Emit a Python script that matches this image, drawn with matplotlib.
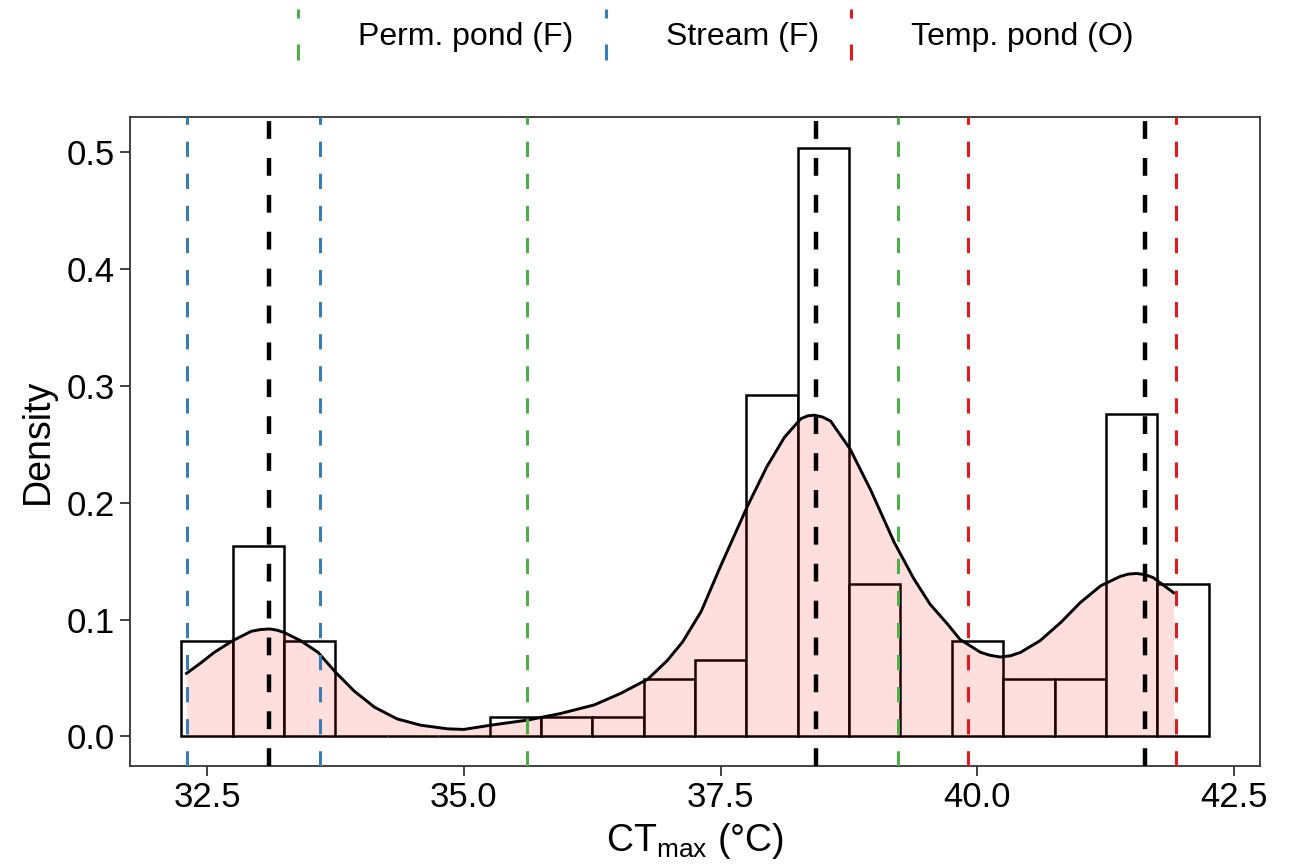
"""
CTmax histogram with density curve and habitat reference lines
"""

import numpy as np
import matplotlib
matplotlib.use('Agg')
import matplotlib.pyplot as plt
from matplotlib.lines import Line2D
from matplotlib.legend_handler import HandlerBase

# histogram: bin left edges (width 0.5) and counts, N = 123
bin_left = [32.25, 32.75, 33.25, 33.75, 34.25, 34.75, 35.25, 35.75, 36.25, 36.75,
            37.25, 37.75, 38.25, 38.75, 39.25, 39.75, 40.25, 40.75, 41.25, 41.75]
counts = [5, 10, 5, 0, 0, 0, 1, 1, 1, 3, 4, 18, 31, 8, 0, 5, 3, 3, 17, 8]
bin_width = 0.5

# density curve
curve_x = [32.30, 32.44, 32.57, 32.75, 32.93, 33.02, 33.11, 33.18, 33.25, 33.41,
           33.58, 33.75, 33.93, 34.13, 34.35, 34.58, 34.84, 35.00, 35.26, 35.62,
           35.94, 36.27, 36.53, 36.79, 36.98, 37.13, 37.31, 37.50, 37.76, 37.95,
           38.12, 38.28, 38.35, 38.41, 38.49, 38.57, 38.76, 38.96, 39.19, 39.38,
           39.54, 39.71, 39.83, 40.03, 40.12, 40.22, 40.32, 40.42, 40.61, 40.81,
           41.00, 41.20, 41.39, 41.47, 41.55, 41.63, 41.71, 41.91]
curve_y = [0.054, 0.063, 0.072, 0.082, 0.090, 0.0915, 0.092, 0.091, 0.089, 0.082,
           0.072, 0.055, 0.039, 0.025, 0.015, 0.0096, 0.0065, 0.006, 0.0096, 0.014,
           0.0196, 0.027, 0.037, 0.049, 0.065, 0.081, 0.107, 0.146, 0.197, 0.231,
           0.256, 0.272, 0.2745, 0.275, 0.2735, 0.270, 0.246, 0.211, 0.166, 0.135,
           0.113, 0.096, 0.083, 0.072, 0.0695, 0.068, 0.069, 0.072, 0.082, 0.0975,
           0.1145, 0.129, 0.137, 0.139, 0.1395, 0.1385, 0.136, 0.123]

# habitat lines
habitats = ['Perm. pond (F)', 'Stream (F)', 'Temp. pond (O)']
hab_colors = ['#4DAF4A', '#377EB8', '#E41A1C']
hab_lines = [[35.61, 39.23], [32.30, 33.60], [39.91, 41.93]]
black_lines = [33.10, 38.43, 41.63]

xticks = [32.5, 35.0, 37.5, 40.0, 42.5]
yticks = [0.0, 0.1, 0.2, 0.3, 0.4, 0.5]


class VLineHandler(HandlerBase):
    # vertical dashed key like ggplot's geom_vline legend
    def create_artists(self, legend, orig_handle, xdescent, ydescent,
                       width, height, fontsize, trans):
        x = width / 2.0 - xdescent
        yc = height / 2.0 - ydescent
        line = Line2D([x, x], [yc + 18.4, yc - 18.4],
                      color=orig_handle.get_color(),
                      linewidth=orig_handle.get_linewidth(),
                      linestyle=(0, (2.95, 8.5, 6, 20)), transform=trans)
        return [line]


plt.rcParams['font.family'] = ['Liberation Sans', 'DejaVu Sans']
plt.rcParams['mathtext.default'] = 'regular'

fig = plt.figure(figsize=(12.94, 8.66), dpi=100)
ax = fig.add_axes([0.1005, 0.1155, 0.8732, 0.7494])

n_total = sum(counts)
dens = np.array(counts) / (n_total * bin_width)
ax.bar(bin_left, dens, width=bin_width, align='edge', facecolor='white',
       edgecolor='black', linewidth=1.8, zorder=2)

ax.fill_between(curve_x, 0, curve_y, color='#FF0000', alpha=0.13, linewidth=0, zorder=3)
ax.plot(curve_x, curve_y, color='black', linewidth=2.1, zorder=4,
        solid_joinstyle='round')

handles = []
for lab, col, xs in zip(habitats, hab_colors, hab_lines):
    for xv in xs:
        ax.axvline(xv, color=col, linewidth=2.2, linestyle=(0, (5, 5.5)), zorder=5)
    handles.append(Line2D([], [], color=col, linewidth=2.2, label=lab))
for xv in black_lines:
    ax.axvline(xv, color='black', linewidth=3.2, linestyle=(0, (4, 4.3)), zorder=6)

ax.set_xlim(31.75, 42.75)
ax.set_ylim(-0.0253, 0.5303)
ax.set_xticks(xticks)
ax.set_xticklabels(['{:.1f}'.format(v) for v in xticks])
ax.set_yticks(yticks)
ax.set_yticklabels(['{:.1f}'.format(v) for v in yticks])
ax.tick_params(axis='both', labelsize=25, colors='#333333', labelcolor='black',
               width=1.3, length=7, pad=4)
for sp in ax.spines.values():
    sp.set_color('#333333')
    sp.set_linewidth(1.3)

ax.set_xlabel('CT$_{max}$ (°C)', fontsize=27, labelpad=5)
ax.set_ylabel('Density', fontsize=27, labelpad=8)

fig.legend(handles=handles, loc='center', bbox_to_anchor=(0.547, 0.957), ncol=3,
           frameon=False, fontsize=23, handlelength=1.0, handletextpad=1.38,
           columnspacing=0.5, handler_map={Line2D: VLineHandler()})

plt.savefig('out.png', dpi=100)
